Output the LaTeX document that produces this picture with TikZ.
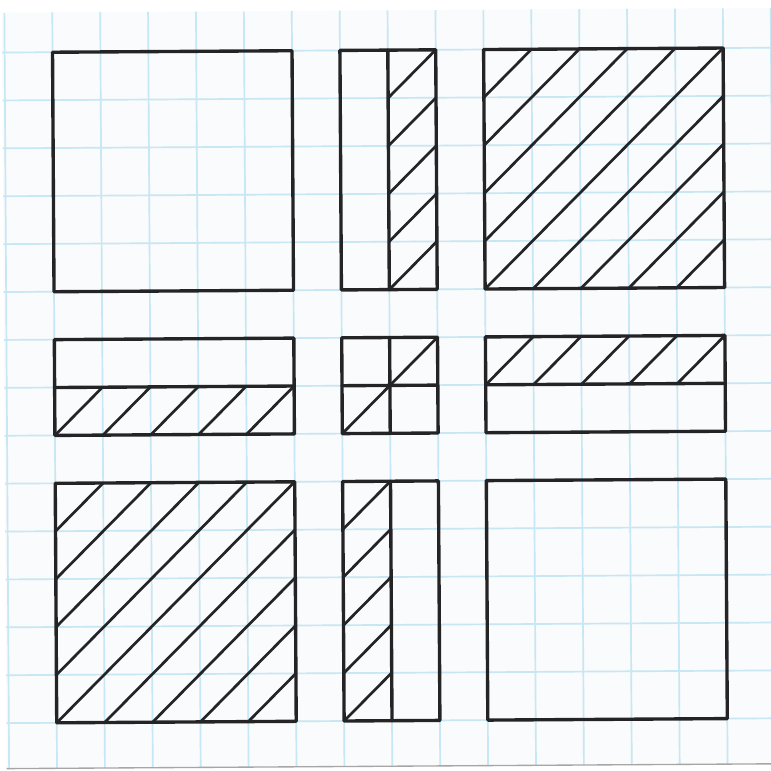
\documentclass[tikz,border=0pt]{standalone}
\usepackage{xcolor}
\usepackage{tikz}
\definecolor{gridblue}{RGB}{198, 231, 243}
\definecolor{paperwhite}{RGB}{249, 251, 252}
\definecolor{ink}{RGB}{36, 36, 38}

\begin{document}
\begin{tikzpicture}[
    x=1cm, y=-1cm,
    paper/.style={fill=paperwhite, draw=none},
    gridline/.style={draw=gridblue, line width=1pt},
    frame/.style={draw=ink, line width=2pt, line join=round, line cap=round},
    hatch/.style={draw=ink, line width=1.6pt, line cap=round}
]
    \useasboundingbox[fill=white] (-0.14,-0.046) rectangle (15.956,16.03);

\begin{scope}[rotate around={0.36:(8,8)}]
    % Grid paper
    \fill[paper] (-0.05,0.17) rectangle (16.3,15.95);
    \foreach \i in {0,...,16}
        \draw[gridline] (\i,0.17) -- (\i,15.95);
    \foreach \j in {1,...,15}
        \draw[gridline] (-0.05,\j) -- (16.3,\j);
    \draw[gray!70, line width=0.8pt] (-0.05,15.95) -- (16.3,15.95);

    % Top row
    \draw[frame] (1,1) rectangle (6,6);
    \draw[frame] (7,1) rectangle (9,6);
    \draw[frame] (8,1) -- (8,6);
    \draw[frame] (10,1) rectangle (15,6);

    % Middle row
    \draw[frame] (1,7) rectangle (6,9);
    \draw[frame] (1,8) -- (6,8);
    \draw[frame] (7,7) rectangle (9,9);
    \draw[frame] (8,7) -- (8,9);
    \draw[frame] (7,8) -- (9,8);
    \draw[frame] (10,7) rectangle (15,9);
    \draw[frame] (10,8) -- (15,8);

    % Bottom row
    \draw[frame] (1,10) rectangle (6,15);
    \draw[frame] (7,10) rectangle (9,15);
    \draw[frame] (8,10) -- (8,15);
    \draw[frame] (10,10) rectangle (15,15);

    % Hatching
    \begin{scope}
        \clip (8,1) rectangle (9,6);
        \foreach \s in {10,...,14}
            \draw[hatch] (\s-20,20) -- (\s,0);
    \end{scope}
    \begin{scope}
        \clip (10,1) rectangle (15,6);
        \foreach \s in {12,...,20}
            \draw[hatch] (\s-20,20) -- (\s,0);
    \end{scope}
    \begin{scope}
        \clip (1,8) rectangle (6,9);
        \foreach \s in {10,...,14}
            \draw[hatch] (\s-20,20) -- (\s,0);
    \end{scope}
    \draw[hatch] (7,9) -- (9,7);
    \begin{scope}
        \clip (10,7) rectangle (15,8);
        \foreach \s in {18,...,22}
            \draw[hatch] (\s-20,20) -- (\s,0);
    \end{scope}
    \begin{scope}
        \clip (1,10) rectangle (6,15);
        \foreach \s in {12,...,20}
            \draw[hatch] (\s-20,20) -- (\s,0);
    \end{scope}
    \begin{scope}
        \clip (7,10) rectangle (8,15);
        \foreach \s in {18,...,22}
            \draw[hatch] (\s-20,20) -- (\s,0);
    \end{scope}
\end{scope}

\end{tikzpicture}
\end{document}
